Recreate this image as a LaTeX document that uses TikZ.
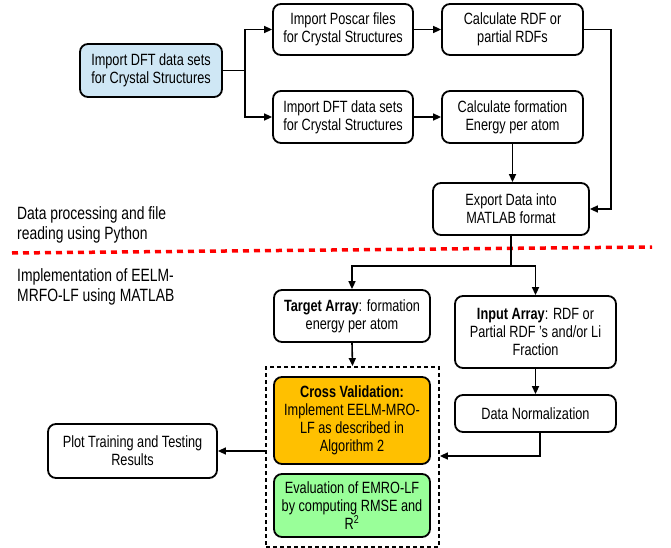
\documentclass[tikz,border=0pt]{standalone}
\usepackage{fontspec}
\setmainfont{Liberation Sans}[FakeStretch=0.78]
\usetikzlibrary{arrows.meta}
\definecolor{boxblue}{RGB}{207,231,245}
\definecolor{boxorange}{RGB}{255,192,0}
\definecolor{boxgreen}{RGB}{153,255,153}
\tikzset{
  box/.style={draw=black, line width=1.8pt, rounded corners=8pt, align=center, inner sep=2pt,
    font=\fontsize{16.3}{18}\selectfont},
  conn/.style={line width=1.6pt},
  arr/.style={line width=1.6pt, -{Triangle[length=8pt,width=7pt]}},
  side/.style={align=left, anchor=west, font=\fontsize{17.8}{20}\selectfont, inner sep=0pt},
}
\begin{document}
\begin{tikzpicture}[x=1pt,y=-1pt]
\useasboundingbox (0,0) rectangle (671,548);
% nodes
\node[box, fill=boxblue, minimum width=142pt, minimum height=53pt] (blue) at (151,70.5) {Import DFT data sets\\for Crystal Structures};
\node[box, minimum width=140pt, minimum height=51pt] (poscar) at (343,29.5) {Import Poscar files\\for Crystal Structures};
\node[box, minimum width=140pt, minimum height=52pt] (dft) at (343,117) {Import DFT data sets\\for Crystal Structures};
\node[box, minimum width=141pt, minimum height=51pt] (rdf) at (512.5,29.5) {Calculate RDF or\\partial RDFs};
\node[box, minimum width=141pt, minimum height=52pt] (form) at (512.5,117) {Calculate formation\\Energy per atom};
\node[box, minimum width=156pt, minimum height=52pt] (export) at (511,209) {Export Data into\\MATLAB format};
\node[box, minimum width=156pt, minimum height=52pt] (target) at (352,316) {\textbf{Target Array}: formation\\energy per atom};
\node[box, minimum width=161pt, minimum height=72pt] (input) at (535.5,332) {\textbf{Input Array}: RDF or\\Partial RDF 's and/or Li\\Fraction};
\node[box, minimum width=161pt, minimum height=37pt] (norm) at (535.5,413.5) {Data Normalization};
\node[draw=black, line width=1.8pt, dash pattern=on 4pt off 3pt, minimum width=173pt, minimum height=180pt, inner sep=0pt] (dash) at (352.5,457) {};
\node[box, fill=boxorange, minimum width=156pt, minimum height=87pt] (cross) at (352,420.5) {\textbf{Cross Validation:}\\Implement EELM-MRO-\\LF as described in\\Algorithm 2};
\node[box, fill=boxgreen, minimum width=156pt, minimum height=63pt] (green) at (352,505.5) {Evaluation of EMRO-LF\\by computing RMSE and\\R\textsuperscript{2}};
\node[box, minimum width=169pt, minimum height=54pt] (plot) at (132.5,451) {Plot Training and Testing\\Results};
% side labels
\node[side] (lab1) at (17,225) {Data processing and file\\reading using Python};
\node[side] (lab2) at (17,287) {Implementation of EELM-\\MRFO-LF using MATLAB};
% red divider
\coordinate (rl) at (12,253);
\coordinate (rr) at (652,247);
\draw[red, line width=3.5pt, dash pattern=on 6pt off 5pt] (rl) -- (rr);
% connectors
\coordinate (j1) at (245,70.5);
\draw[conn] (blue.east) -- (j1);
\draw[arr] (j1) |- (poscar.west);
\draw[arr] (j1) |- (dft.west);
\draw[arr] (poscar.east) -- (rdf.west);
\draw[arr] (dft.east) -- (form.west);
\draw[arr] (form.south) -- (form.south |- export.north);
\coordinate (j2) at (611,29.5);
\draw[arr] (rdf.east) -- (j2) |- (export.east);
\coordinate (j3) at (511,266);
\draw[conn] (export.south) -- (j3);
\draw[arr] (j3) -| (target.north);
\draw[arr] (j3) -| (input.north);
\draw[arr] (target.south) -- (dash.north);
\draw[arr] (input.south) -- (norm.north);
\coordinate (j4) at (540,456);
\draw[arr] (norm.south -| j4) -- (j4) -- (j4 -| dash.east);
\draw[arr] (dash.west |- plot.east) -- (plot.east);
\end{tikzpicture}
\end{document}
